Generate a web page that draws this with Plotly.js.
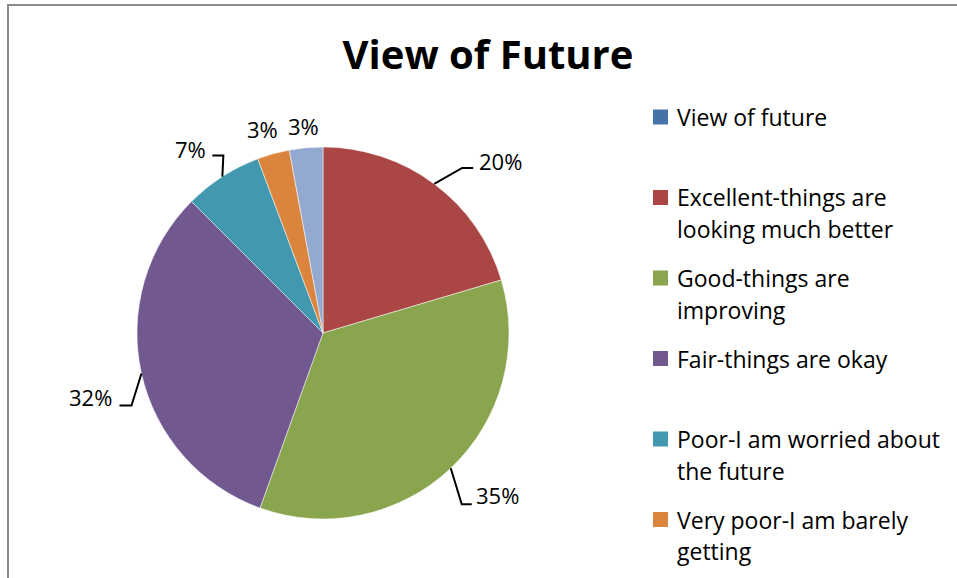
<!DOCTYPE html>
<html><head><meta charset="utf-8">
<script src="https://cdn.plot.ly/plotly-3.0.1.min.js"></script>
<style>html,body{margin:0;padding:0;overflow:hidden;background:#fff}</style>
</head><body><div id="chart" style="width:957px;height:578px"></div>
<script>
// ---- data ----
const categories = ["View of future", "Excellent-things are looking much better", "Good-things are improving",
  "Fair-things are okay", "Poor-I am worried about the future", "Very poor-I am barely getting", "No response"];
const values = [0, 20.4, 35.1, 32.0, 6.8, 2.8, 2.9];
const legendLines = [["View of future"], ["Excellent-things are", "looking much better"], ["Good-things are", "improving"],
  ["Fair-things are okay"], ["Poor-I am worried about", "the future"], ["Very poor-I am barely", "getting"], ["No response"]];
const titleText = "View of Future";

// ---- styles ----
const colors = ["#4572A7", "#AA4643", "#89A54E", "#71588F", "#4198AF", "#DB843D", "#93A9CF"];
// label centre offset from slice-edge anchor (px)
const labelOffsets = [null, [66, -23], [47, 27], [-51, 23], [-32, -28], [-11, -25], [-3, -22]];
// leader line: elbow offset from anchor, then horizontal run (px); null = no leader
const leaders = [null, [28, -16, 11], [11, 36, 10], [-10, 32, -12], [1, -21, -11], null, null];
const W = 957, H = 578;
const FONT = "'Open Sans', 'Noto Sans', sans-serif";
const cx = 323, cy = 333, R = 186;

const px2x = p => p / W, py2y = p => 1 - p / H;
const total = values.reduce((a, b) => a + b, 0);

const trace = {
  type: 'pie', labels: categories, values: values, sort: false, direction: 'clockwise', rotation: 0,
  marker: {colors: colors, line: {color: 'rgba(255,255,255,0.5)', width: 1}},
  textinfo: 'none', hoverinfo: 'label+percent', showlegend: false,
  domain: {x: [px2x(cx - R), px2x(cx + R)], y: [py2y(cy + R), py2y(cy - R)]}
};

const annotations = [];
const shapes = [];
let cum = 0;
values.forEach((v, i) => {
  const start = cum; cum += v;
  if (v <= 0) return;
  const mid = (start + v / 2) / total * 2 * Math.PI;
  const ex = cx + R * Math.sin(mid), ey = cy - R * Math.cos(mid);
  const off = labelOffsets[i];
  annotations.push({
    xref: 'paper', yref: 'paper', x: px2x(ex + off[0]), y: py2y(ey + off[1]),
    xanchor: 'center', yanchor: 'middle', showarrow: false,
    text: Math.round(v / total * 100) + '%',
    font: {family: FONT, size: 22, color: '#000'}
  });
  const L = leaders[i];
  if (L) {
    const bx = ex + L[0], by = ey + L[1], hx = bx + L[2];
    shapes.push({type: 'path', xref: 'paper', yref: 'paper',
      path: `M ${px2x(ex)} ${py2y(ey)} L ${px2x(bx)} ${py2y(by)} L ${px2x(hx)} ${py2y(by)}`,
      line: {color: '#000', width: 2}});
  }
});

// legend (manual, Excel-like wrapping & spacing)
const legX = 653, legSq = 15, legTextX = 675, legTop = 117, legStep = 80.5, lineStep = 31.5;
categories.forEach((c, i) => {
  const yc = legTop + legStep * i;
  if (yc - 12 > H) return;
  shapes.push({type: 'rect', xref: 'paper', yref: 'paper',
    x0: px2x(legX), x1: px2x(legX + legSq), y0: py2y(yc + legSq / 2), y1: py2y(yc - legSq / 2),
    fillcolor: colors[i], line: {width: 0}});
  legendLines[i].forEach((ln, j) => {
    annotations.push({xref: 'paper', yref: 'paper', x: px2x(legTextX), y: py2y(yc + j * lineStep),
      xanchor: 'left', yanchor: 'middle', showarrow: false, text: ln,
      font: {family: FONT, size: 23, color: '#000'}});
  });
});

// chart frame
shapes.push({type: 'rect', xref: 'paper', yref: 'paper', x0: px2x(8), x1: 1.2, y0: -0.2, y1: py2y(5),
  line: {color: '#8a8a8a', width: 2}, fillcolor: 'rgba(0,0,0,0)'});

const layout = {
  width: W, height: H, margin: {l: 0, r: 0, t: 0, b: 0},
  paper_bgcolor: '#fff', plot_bgcolor: '#fff',
  title: {text: '<b>' + titleText + '</b>', font: {family: FONT, size: 40, color: '#000'},
    x: px2x(488), xanchor: 'center', y: py2y(55), yanchor: 'middle', xref: 'paper', yref: 'paper'},
  annotations: annotations, shapes: shapes, showlegend: false
};

Plotly.newPlot('chart', [trace], layout, {displayModeBar: false, staticPlot: true});
</script>
</body></html>
